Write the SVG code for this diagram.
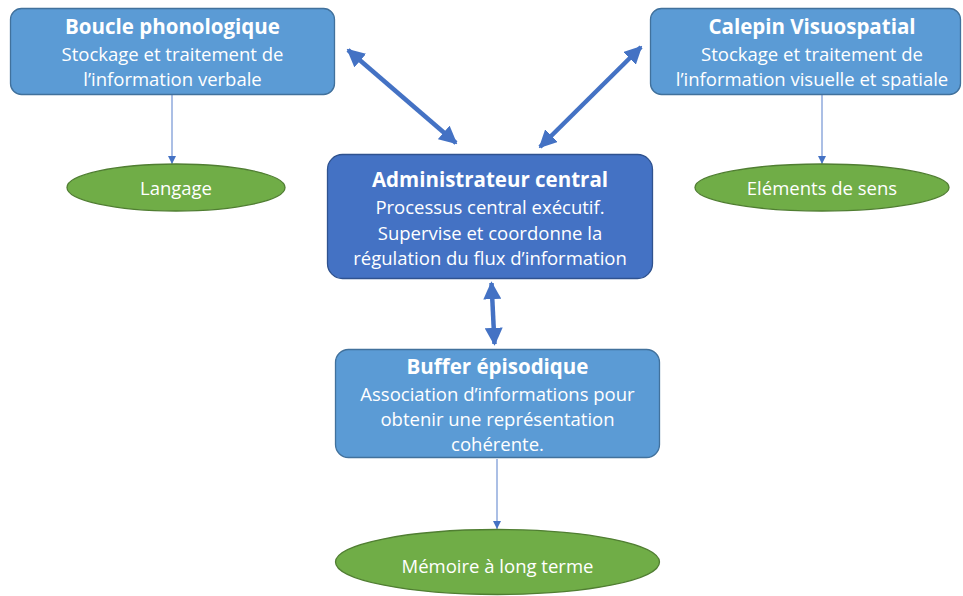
<svg xmlns="http://www.w3.org/2000/svg" width="963" height="596" viewBox="0 0 963 596">
<style>
.box{fill:#5B9BD5;stroke:#41719C;stroke-width:1.3}
.adm{fill:#4472C4;stroke:#2F528F;stroke-width:1.3}
.ell{fill:#70AD47;stroke:#507E32;stroke-width:1.3}
text{font-family:"Open Sans","Liberation Sans",Arial,sans-serif;fill:#fff;text-anchor:middle;dominant-baseline:central}
.t{font-size:20.5px;font-weight:bold}
.b{font-size:18.5px}
.thin{stroke:#8FAADC;stroke-width:1.5;fill:none}
.thick{stroke:#4472C4;stroke-width:4.5;fill:none}
</style>
<defs>
<marker id="sm" viewBox="0 0 10 10" refX="10" refY="5" markerWidth="8" markerHeight="8" markerUnits="userSpaceOnUse" orient="auto"><path d="M0,0 L10,5 L0,10 z" fill="#4472C4"/></marker>
<marker id="bg" viewBox="0 0 10 10" refX="9" refY="5" markerWidth="4" markerHeight="4" orient="auto-start-reverse"><path d="M0,0 L10,5 L0,10 z" fill="#4472C4"/></marker>
</defs>
<g id="connectors">
<line class="thin" x1="172" y1="95" x2="172" y2="164" marker-end="url(#sm)"/>
<line class="thin" x1="822" y1="95" x2="822" y2="164" marker-end="url(#sm)"/>
<line class="thin" x1="497" y1="459" x2="497" y2="529" marker-end="url(#sm)"/>
<line class="thick" x1="348" y1="50" x2="456" y2="143" marker-start="url(#bg)" marker-end="url(#bg)"/>
<line class="thick" x1="641" y1="47" x2="540" y2="147" marker-start="url(#bg)" marker-end="url(#bg)"/>
<line class="thick" x1="491.5" y1="283" x2="494.5" y2="344" marker-start="url(#bg)" marker-end="url(#bg)"/>
</g>
<g id="boucle">
<rect class="box" x="10.5" y="8.5" width="324" height="86" rx="11"/>
<text class="t" x="172.5" y="26">Boucle phonologique</text>
<text class="b" x="172.5" y="53">Stockage et traitement de</text>
<text class="b" x="172.5" y="78">l’information verbale</text>
</g>
<g id="calepin">
<rect class="box" x="650.5" y="8.5" width="310" height="86" rx="11"/>
<text class="t" x="812" y="26">Calepin Visuospatial</text>
<text class="b" x="812" y="53">Stockage et traitement de</text>
<text class="b" x="812" y="78">l’information visuelle et spatiale</text>
</g>
<g id="admin">
<rect class="adm" x="327.5" y="154.5" width="325" height="124" rx="15"/>
<text class="t" x="490" y="179">Administrateur central</text>
<text class="b" x="490" y="206">Processus central exécutif.</text>
<text class="b" x="490" y="232">Supervise et coordonne la</text>
<text class="b" x="490" y="257">régulation du flux d’information</text>
</g>
<g id="buffer">
<rect class="box" x="335.5" y="349.5" width="324" height="108" rx="13"/>
<text class="t" x="497.5" y="366">Buffer épisodique</text>
<text class="b" x="497.5" y="393">Association d’informations pour</text>
<text class="b" x="497.5" y="418">obtenir une représentation</text>
<text class="b" x="497.5" y="443">cohérente.</text>
</g>
<g id="langage">
<ellipse class="ell" cx="176" cy="187.5" rx="109" ry="23.5"/>
<text class="b" x="176" y="187.5">Langage</text>
</g>
<g id="elements">
<ellipse class="ell" cx="822" cy="187.5" rx="127" ry="23.5"/>
<text class="b" x="822" y="187.5">Eléments de sens</text>
</g>
<g id="memoire">
<ellipse class="ell" cx="497.5" cy="562" rx="162" ry="32.5"/>
<text class="b" x="497.5" y="565">Mémoire à long terme</text>
</g>
</svg>
